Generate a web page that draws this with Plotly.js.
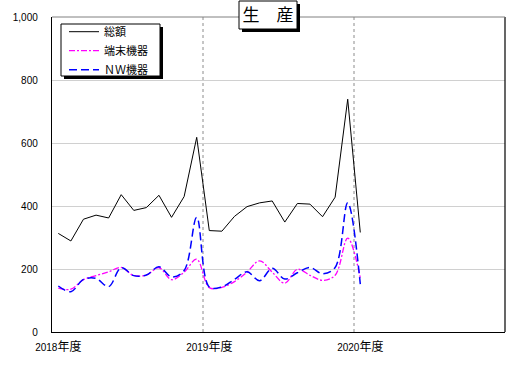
<!DOCTYPE html>
<html>
<head>
<meta charset="utf-8">
<script src="https://cdn.plot.ly/plotly-3.0.1.min.js"></script>
<style>html,body{margin:0;padding:0;background:#fff;}#chart{width:518px;height:371px;}</style>
</head>
<body>
<div id="chart"></div>
<script>
// Categories: fiscal-year months (April 2018 .. March 2021)
const months = [
  "2018/04","2018/05","2018/06","2018/07","2018/08","2018/09","2018/10","2018/11","2018/12","2019/01","2019/02","2019/03",
  "2019/04","2019/05","2019/06","2019/07","2019/08","2019/09","2019/10","2019/11","2019/12","2020/01","2020/02","2020/03",
  "2020/04","2020/05","2020/06","2020/07","2020/08","2020/09","2020/10","2020/11","2020/12","2021/01","2021/02","2021/03"
];
const tickMonths = ["2018/04","2019/04","2020/04"];
const tickLabels = ["2018<span style='font-size:12px'>年度</span>","2019<span style='font-size:12px'>年度</span>","2020<span style='font-size:12px'>年度</span>"];

const seriesNames = ["総額","端末機器","ＮＷ機器"];
const total    = [313,289,358,371,362,436,386,395,434,364,430,618,322,320,367,398,410,416,349,408,406,366,428,739,316];
const terminal = [139,136,166,179,191,205,179,181,204,166,190,231,141,142,160,190,226,190,155,199,180,164,180,298,172];
const network  = [146,128,167,170,144,204,179,181,207,175,195,364,143,143,167,191,163,202,168,188,205,185,205,410,152];

const xs = months.slice(0, total.length);

const traces = [
  {x: xs, y: total, name: seriesNames[0], legendgroup: 'g1', type: 'scatter', mode: 'lines',
   line: {color: '#000000', width: 1}},
  {x: xs, y: terminal, name: seriesNames[1], legendgroup: 'g2', type: 'scatter', mode: 'lines',
   line: {color: '#ff00ff', width: 1.3, dash: '6px,2px,2px,2px', shape: 'spline', smoothing: 1}},
  {x: xs, y: network, name: seriesNames[2], legendgroup: 'g3', type: 'scatter', mode: 'lines',
   line: {color: '#0000ff', width: 1.5, dash: '8px,4px', shape: 'spline', smoothing: 1}}
];

const L = 52, R = 13, T = 17, B = 39, W = 518, H = 371;
const pw = W - L - R, ph = H - T - B;
const px = v => (v - L) / pw;
const py = v => (H - B - v) / ph;

const shapes = [
  // year-boundary gridlines
  {type:'line', xref:'x', yref:'paper', x0:11.5, x1:11.5, y0:0, y1:1, line:{color:'#8c8c8c', width:1, dash:'dot'}, layer:'below'},
  {type:'line', xref:'x', yref:'paper', x0:23.5, x1:23.5, y0:0, y1:1, line:{color:'#8c8c8c', width:1, dash:'dot'}, layer:'below'},
  // right and top plot borders
  {type:'line', xref:'paper', yref:'paper', x0:1, x1:1, y0:0, y1:1, line:{color:'#000', width:1.2}},
  {type:'line', xref:'paper', yref:'paper', x0:0, x1:1, y0:1, y1:1, line:{color:'#808080', width:1}},
  // legend shadow + box
  {type:'rect', xref:'paper', yref:'paper', x0:px(64), x1:px(163), y0:py(79), y1:py(27), fillcolor:'#000', line:{width:0}},
  {type:'rect', xref:'paper', yref:'paper', x0:px(61), x1:px(160), y0:py(76), y1:py(24), fillcolor:'#fff', line:{color:'#000', width:1}},
  // title shadow + box
  {type:'rect', xref:'paper', yref:'paper', x0:px(242), x1:px(300), y0:py(32), y1:py(4), fillcolor:'#000', line:{width:0}},
  {type:'rect', xref:'paper', yref:'paper', x0:px(239), x1:px(297), y0:py(29), y1:py(1), fillcolor:'#fff', line:{color:'#000', width:1}}
];

const layout = {
  width: W, height: H,
  margin: {l: L, r: R, t: T, b: B, pad: 0},
  paper_bgcolor: '#fff', plot_bgcolor: '#fff',
  font: {family: 'Liberation Sans, Noto Sans CJK JP, sans-serif', size: 10, color: '#000'},
  title: {text: '生　産', font: {family: 'Noto Sans CJK JP', size: 17, color: '#000'},
          xref: 'container', yref: 'container', x: 268 / W, y: 1 - 15 / H, xanchor: 'center', yanchor: 'middle'},
  showlegend: true,
  legend: {x: px(64), y: py(17.2), xanchor: 'left', yanchor: 'top', bgcolor: 'rgba(0,0,0,0)', borderwidth: 0,
           font: {family: 'Noto Sans CJK JP', size: 11, color: '#000'}, itemwidth: 30, tracegroupgap: 0},
  xaxis: {type: 'category', categoryorder: 'array', categoryarray: months, range: [-0.5, 35.5],
          tickvals: tickMonths, ticktext: tickLabels, showgrid: false, zeroline: false,
          showline: true, linecolor: '#000', linewidth: 1.2, ticks: '', ticklabelstandoff: 6,
          tickfont: {family: 'Liberation Sans, Noto Sans CJK JP', size: 10, color: '#000'}, fixedrange: true},
  yaxis: {range: [0, 1000], dtick: 200, tick0: 0, tickformat: ',d', showgrid: true, gridcolor: '#d0d0d0', gridwidth: 1,
          zeroline: false, showline: true, linecolor: '#000', linewidth: 1.2, ticks: '', ticklabelstandoff: 11,
          tickfont: {family: 'Liberation Sans', size: 10, color: '#000'}, fixedrange: true},
  shapes: shapes
};

Plotly.newPlot('chart', traces, layout, {displayModeBar: false, staticPlot: true});
</script>
</body>
</html>
